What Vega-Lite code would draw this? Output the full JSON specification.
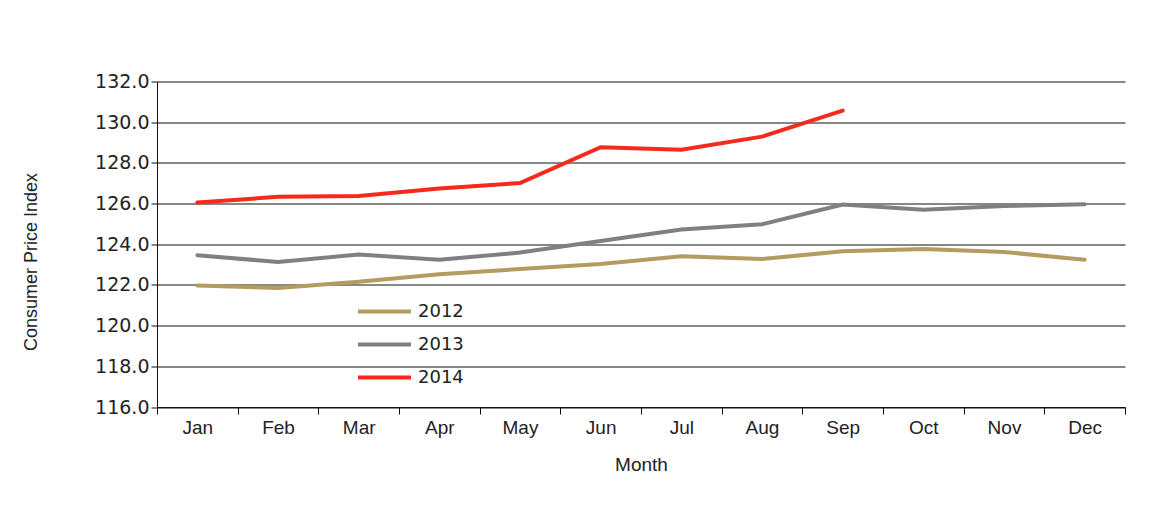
{
  "$schema": "https://vega.github.io/schema/vega-lite/v6.json",
  "autosize": "none",
  "width": 968,
  "height": 325.5,
  "padding": {"left": 157, "top": 81.5, "right": 26, "bottom": 107},
  "background": "white",
  "data": {
    "values": [
      {"month": "Jan", "year": "2012", "cpi": 121.97},
      {"month": "Feb", "year": "2012", "cpi": 121.85},
      {"month": "Mar", "year": "2012", "cpi": 122.16},
      {"month": "Apr", "year": "2012", "cpi": 122.53},
      {"month": "May", "year": "2012", "cpi": 122.78},
      {"month": "Jun", "year": "2012", "cpi": 123.03},
      {"month": "Jul", "year": "2012", "cpi": 123.41},
      {"month": "Aug", "year": "2012", "cpi": 123.28},
      {"month": "Sep", "year": "2012", "cpi": 123.65},
      {"month": "Oct", "year": "2012", "cpi": 123.77},
      {"month": "Nov", "year": "2012", "cpi": 123.62},
      {"month": "Dec", "year": "2012", "cpi": 123.24},
      {"month": "Jan", "year": "2013", "cpi": 123.46},
      {"month": "Feb", "year": "2013", "cpi": 123.13},
      {"month": "Mar", "year": "2013", "cpi": 123.49},
      {"month": "Apr", "year": "2013", "cpi": 123.24},
      {"month": "May", "year": "2013", "cpi": 123.59},
      {"month": "Jun", "year": "2013", "cpi": 124.16},
      {"month": "Jul", "year": "2013", "cpi": 124.72},
      {"month": "Aug", "year": "2013", "cpi": 124.98},
      {"month": "Sep", "year": "2013", "cpi": 125.95},
      {"month": "Oct", "year": "2013", "cpi": 125.7},
      {"month": "Nov", "year": "2013", "cpi": 125.88},
      {"month": "Dec", "year": "2013", "cpi": 125.97},
      {"month": "Jan", "year": "2014", "cpi": 126.05},
      {"month": "Feb", "year": "2014", "cpi": 126.33},
      {"month": "Mar", "year": "2014", "cpi": 126.37},
      {"month": "Apr", "year": "2014", "cpi": 126.74},
      {"month": "May", "year": "2014", "cpi": 127.01},
      {"month": "Jun", "year": "2014", "cpi": 128.77},
      {"month": "Jul", "year": "2014", "cpi": 128.65},
      {"month": "Aug", "year": "2014", "cpi": 129.29},
      {"month": "Sep", "year": "2014", "cpi": 130.57}
    ]
  },
  "mark": {"type": "line", "strokeCap": "round"},
  "encoding": {
    "x": {
      "field": "month",
      "type": "ordinal",
      "sort": ["Jan", "Feb", "Mar", "Apr", "May", "Jun", "Jul", "Aug", "Sep", "Oct", "Nov", "Dec"],
      "bandPosition": 0.5,
      "scale": {"type": "band", "paddingInner": 0, "paddingOuter": 0},
      "axis": {
        "title": "Month",
        "labelAngle": 0,
        "tickBand": "extent",
        "tickSize": 7,
        "tickColor": "#111",
        "domainColor": "#111",
        "labelPadding": 4,
        "labelFont": "Liberation Sans",
        "labelFontSize": 19,
        "labelColor": "#222",
        "titleFont": "Liberation Sans",
        "titleFontSize": 19,
        "titleFontWeight": "normal",
        "titleColor": "#222",
        "titlePadding": 18,
        "grid": false
      }
    },
    "y": {
      "field": "cpi",
      "type": "quantitative",
      "scale": {"domain": [116, 132], "nice": false, "zero": false},
      "axis": {
        "title": "Consumer  Price Index",
        "values": [116, 118, 120, 122, 124, 126, 128, 130, 132],
        "format": ".1f",
        "tickSize": 6,
        "tickColor": "#111",
        "domainColor": "#111",
        "gridColor": "#111",
        "gridWidth": 1,
        "labelPadding": 2,
        "labelFont": "DejaVu Sans",
        "labelFontSize": 19,
        "labelColor": "#222",
        "titleFont": "Liberation Sans",
        "titleFontSize": 18,
        "titleFontWeight": "normal",
        "titleColor": "#222",
        "titleX": -126,
        "titleY": 180,
        "titleAlign": "center",
        "titleBaseline": "middle",
        "titleAngle": -90
      }
    },
    "color": {
      "field": "year",
      "type": "nominal",
      "scale": {"domain": ["2012", "2013", "2014"], "range": ["#b49b5f", "#808080", "#f52a1d"]},
      "legend": {
        "title": null,
        "orient": "none",
        "legendX": 204,
        "legendY": 206.5,
        "symbolType": "M-1.25,0H1.25",
        "symbolSize": 1800,
        "rowPadding": -5,
        "labelOffset": 10,
        "labelFont": "DejaVu Sans",
        "labelFontSize": 18,
        "labelColor": "#222"
      }
    },
    "strokeWidth": {
      "field": "year",
      "type": "nominal",
      "scale": {"domain": ["2012", "2013", "2014"], "range": [4, 4, 2.8]}
    }
  },
  "config": {
    "view": {"stroke": null}
  }
}
